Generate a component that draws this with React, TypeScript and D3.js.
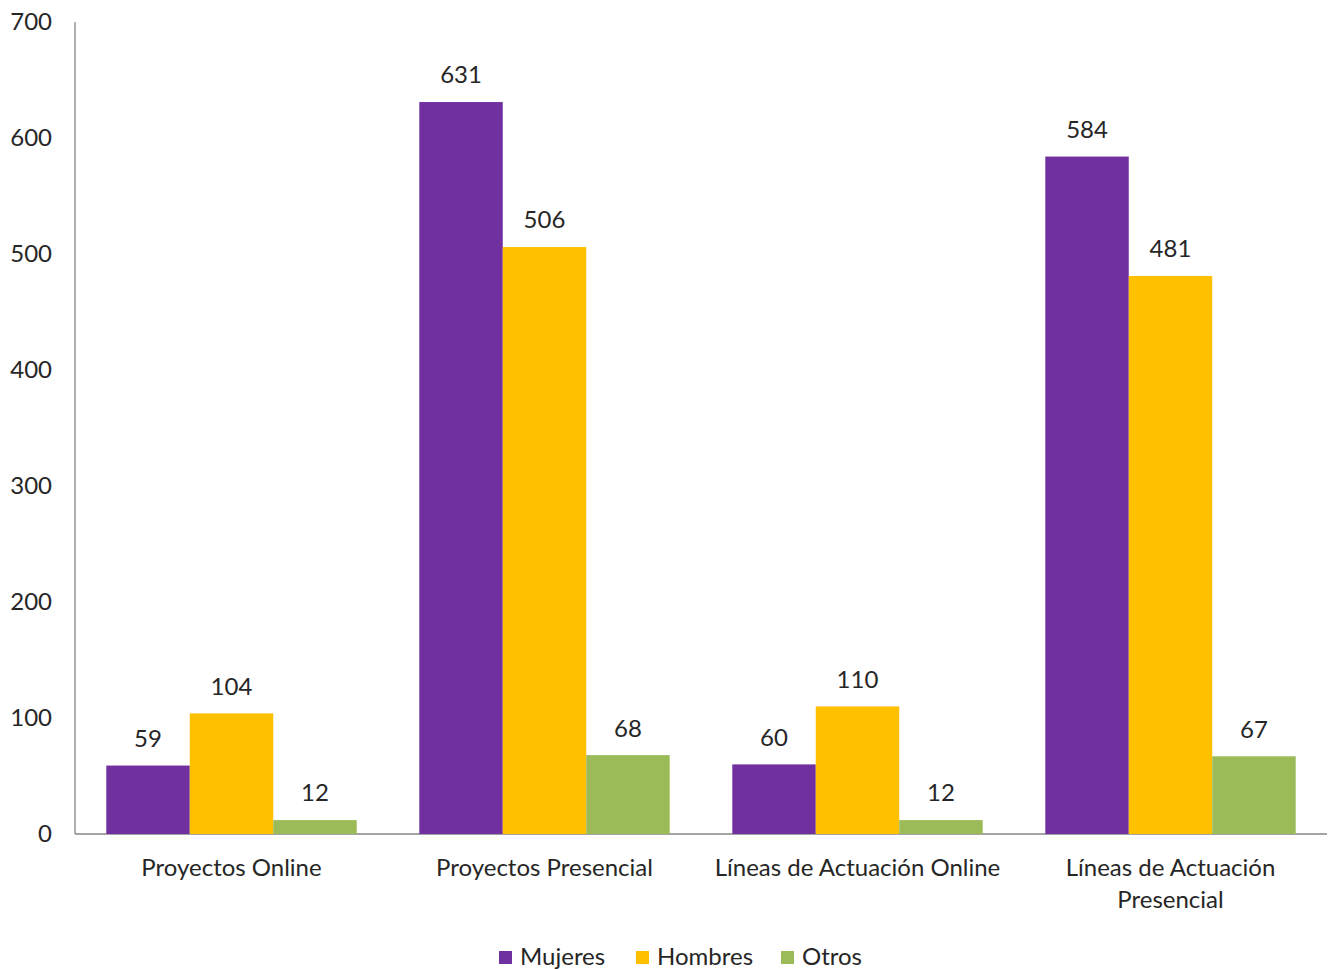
import React, { useEffect, useRef } from "react";
import * as d3 from "d3";

const categories = ["Proyectos Online", "Proyectos Presencial", "Líneas de Actuación Online", "Líneas de Actuación Presencial"];
const categoryLines = [["Proyectos Online"], ["Proyectos Presencial"], ["Líneas de Actuación Online"], ["Líneas de Actuación", "Presencial"]];
const seriesNames = ["Mujeres", "Hombres", "Otros"];
const mujeres = [59, 631, 60, 584];
const hombres = [104, 506, 110, 481];
const otros = [12, 68, 12, 67];
const colors = ["#7030A0", "#FFC000", "#9BBB59"];
const yTicks = [0, 100, 200, 300, 400, 500, 600, 700];

const W = 1335;
const H = 969;
const FONT = "Lato, 'Open Sans', sans-serif";
const FS = 24;

export default function App() {
  const ref = useRef<SVGSVGElement>(null);
  useEffect(() => {
    const svg = d3.select(ref.current);
    svg.selectAll("*").remove();
    const left = 75, right = 1327, top = 22, bottom = 834;
    const x = d3.scaleBand<string>().domain(categories).range([left, right]).paddingInner(0.2).paddingOuter(0.1);
    const xs = d3.scaleBand<string>().domain(seriesNames).range([0, x.bandwidth()]);
    const y = d3.scaleLinear().domain([0, 700]).range([bottom, top]);
    const series = [mujeres, hombres, otros];

    svg.append("line").attr("x1", left).attr("x2", left).attr("y1", top).attr("y2", bottom).attr("stroke", "#868686").attr("stroke-width", 1.3);
    svg.append("line").attr("x1", left).attr("x2", right).attr("y1", bottom).attr("y2", bottom).attr("stroke", "#868686").attr("stroke-width", 1.3);

    svg.selectAll(".yt").data(yTicks).enter().append("text")
      .attr("x", 52).attr("y", (d) => y(d)).attr("dy", "0.35em").attr("text-anchor", "end")
      .attr("font-family", FONT).attr("font-size", FS).attr("fill", "#262626").text((d) => d);

    series.forEach((vals, si) => {
      const g = svg.append("g");
      g.selectAll("rect").data(vals).enter().append("rect")
        .attr("x", (_, i) => x(categories[i])! + xs(seriesNames[si])!)
        .attr("y", (d) => y(d)).attr("width", xs.bandwidth()).attr("height", (d) => bottom - y(d))
        .attr("fill", colors[si]);
      g.selectAll("text").data(vals).enter().append("text")
        .attr("x", (_, i) => x(categories[i])! + xs(seriesNames[si])! + xs.bandwidth() / 2)
        .attr("y", (d) => y(d) - 27).attr("dy", "0.35em").attr("text-anchor", "middle")
        .attr("font-family", FONT).attr("font-size", FS).attr("fill", "#262626").text((d) => d);
    });

    categories.forEach((c, i) => {
      const t = svg.append("text").attr("text-anchor", "middle").attr("font-family", FONT).attr("font-size", FS).attr("fill", "#262626");
      categoryLines[i].forEach((ln, li) => {
        t.append("tspan").attr("x", x(c)! + x.bandwidth() / 2).attr("y", 868 + li * 32).attr("dy", "0.35em").text(ln);
      });
    });

    const legendX = [499, 636, 781];
    seriesNames.forEach((s, i) => {
      svg.append("rect").attr("x", legendX[i]).attr("y", 951).attr("width", 13).attr("height", 13).attr("fill", colors[i]);
      svg.append("text").attr("x", legendX[i] + 21).attr("y", 957).attr("dy", "0.35em")
        .attr("font-family", FONT).attr("font-size", FS).attr("fill", "#262626").text(s);
    });
  }, []);
  return <svg ref={ref} width={W} height={H} style={{ position: "absolute", left: 0, top: 0, background: "#fff" }} />;
}
